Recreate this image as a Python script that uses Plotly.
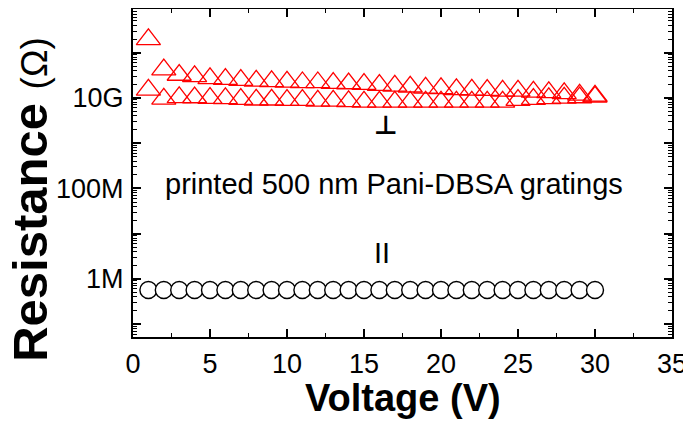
import plotly.graph_objects as go

# ---- data ----
voltage = list(range(1, 31))

r_perp_sweep1 = [1.97e11, 4.2e10, 3.2e10, 2.98e10, 2.69e10, 2.6e10, 2.47e10, 2.38e10,
                 2.31e10, 2.26e10, 2.19e10, 2.19e10, 2.12e10, 2.08e10, 2.01e10, 1.91e10,
                 1.85e10, 1.76e10, 1.67e10, 1.62e10, 1.54e10, 1.51e10, 1.48e10, 1.43e10,
                 1.43e10, 1.36e10, 1.32e10, 1.26e10, 1.17e10, 1.11e10]

r_perp_sweep2 = [1.5e10, 9.5e9, 1.03e10, 1.02e10, 9.9e9, 9.8e9, 9.4e9, 9.1e9,
                 9.1e9, 8.95e9, 8.95e9, 8.6e9, 8.6e9, 8.4e9, 8.2e9, 8.2e9,
                 8.2e9, 8.2e9, 8.2e9, 8.2e9, 8.2e9, 8.2e9, 8.2e9, 8.2e9,
                 8.9e9, 9.4e9, 9.8e9, 1.0e10, 1.02e10, 1.06e10]

r_par = [5.7e5] * 30

x_ticks = [0, 5, 10, 15, 20, 25, 30, 35]
y_major = [1e5, 1e6, 1e7, 1e8, 1e9, 1e10, 1e11]
y_major_text = ["", "1M", "", "100M", "", "10G", ""]
y_minor = [k * 10 ** n for n in range(4, 12) for k in range(2, 10)]

FONT = "Arial, Liberation Sans, sans-serif"
RED = "#ff0000"

fig = go.Figure()

tri = dict(symbol="triangle-up-open", size=21, color=RED, line=dict(color=RED, width=1.3))
fig.add_trace(go.Scatter(x=voltage, y=r_perp_sweep1, mode="markers", marker=tri, showlegend=False))
fig.add_trace(go.Scatter(x=voltage, y=r_perp_sweep2, mode="markers", marker=tri, showlegend=False))
fig.add_trace(go.Scatter(
    x=voltage, y=r_par, mode="markers",
    marker=dict(symbol="circle", size=17, color="white", line=dict(color="black", width=1.4)),
    showlegend=False))

fig.update_xaxes(
    range=[0, 35], tickmode="array", tickvals=x_ticks, automargin=False,
    ticks="inside", ticklen=8, tickwidth=1.5, tickcolor="black",
    minor=dict(dtick=2.5, tick0=0, ticks="inside", ticklen=4, tickwidth=1.2, tickcolor="black"),
    showline=True, linewidth=2, linecolor="black", mirror="allticks",
    showgrid=False, zeroline=False,
    tickfont=dict(family=FONT, size=27, color="black"),
    ticklabelstandoff=2,
)

fig.update_yaxes(
    type="log", range=[4.716, 11.964], automargin=False,
    tickmode="array", tickvals=y_major, ticktext=y_major_text,
    ticks="inside", ticklen=8, tickwidth=1.5, tickcolor="black",
    minor=dict(tickmode="array", tickvals=y_minor, ticks="inside", ticklen=4, tickwidth=1.2, tickcolor="black"),
    showline=True, linewidth=2, linecolor="black", mirror="allticks",
    showgrid=False, zeroline=False,
    tickfont=dict(family=FONT, size=27, color="black"),
    ticklabelstandoff=2,
)

fig.add_annotation(
    xref="paper", yref="paper", x=-0.19, y=0.42, textangle=-90, showarrow=False,
    text="<b>Resistance</b> <span style='font-size:37px'>(Ω)</span>",
    font=dict(family=FONT, size=49, color="black"), xanchor="center", yanchor="middle",
    borderpad=0)
fig.add_annotation(
    xref="paper", yref="paper", x=0.5, y=-0.185, showarrow=False,
    text="<b>Voltage (V)</b>", font=dict(family=FONT, size=38, color="black"),
    xanchor="center", yanchor="middle")

fig.add_annotation(xref="x", yref="y", x=16.95, y=8.09, showarrow=False,
                   text="printed 500 nm Pani-DBSA gratings",
                   font=dict(family=FONT, size=29, color="black"))
fig.add_annotation(xref="x", yref="y", x=16.4, y=9.41, showarrow=False,
                   text="<b>⊥</b>", font=dict(family="DejaVu Sans", size=26, color="black"))
fig.add_annotation(xref="x", yref="y", x=16.15, y=6.57, showarrow=False,
                   text="II", font=dict(family=FONT, size=29, color="black"))

# the page body has an 8 px default margin, so the figure is sized/offset to compensate
fig.update_layout(
    width=683, height=418,
    margin=dict(l=125, r=19, t=1, b=89),
    paper_bgcolor="white", plot_bgcolor="white",
)

fig.write_html("out.html")
